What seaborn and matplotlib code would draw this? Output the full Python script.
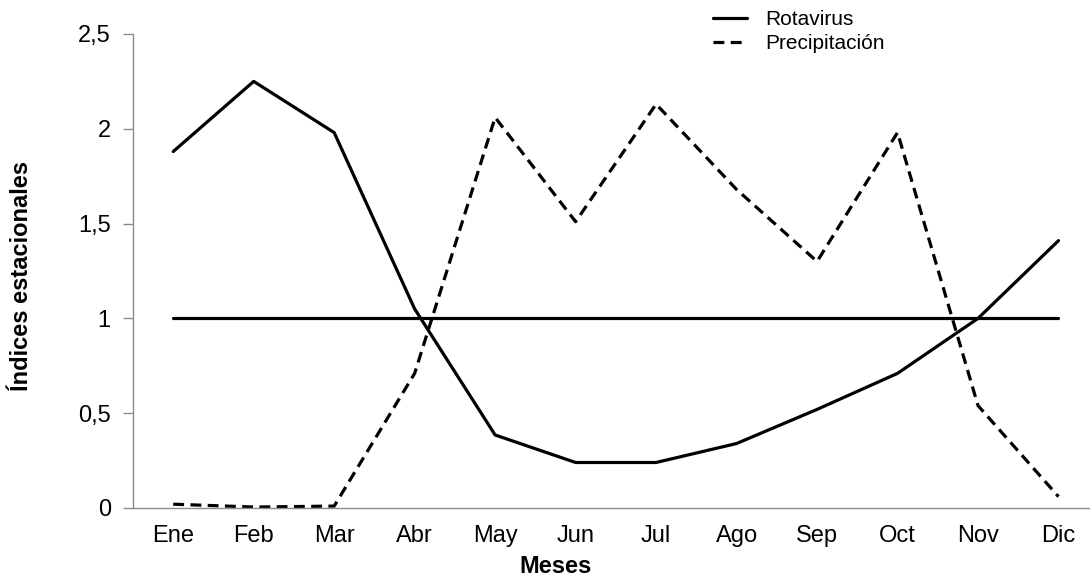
import pandas as pd
import seaborn as sns
import matplotlib.pyplot as plt
from matplotlib.ticker import FixedLocator, FuncFormatter

# Datos
meses = ['Ene', 'Feb', 'Mar', 'Abr', 'May', 'Jun', 'Jul', 'Ago', 'Sep', 'Oct', 'Nov', 'Dic']
rotavirus = [1.88, 2.25, 1.98, 1.05, 0.385, 0.24, 0.24, 0.34, 0.52, 0.71, 1.0, 1.41]
precipitacion = [0.02, 0.005, 0.01, 0.71, 2.06, 1.51, 2.13, 1.68, 1.30, 1.98, 0.54, 0.06]
referencia = [1, 1, 1, 1, 1, 1, 1, 1, 1, 1, 1, 1]

sns.set_style('white')
plt.rcParams['font.family'] = ['Liberation Sans', 'DejaVu Sans']
plt.rcParams['text.color'] = 'black'
plt.rcParams['xtick.labelcolor'] = 'black'
plt.rcParams['ytick.labelcolor'] = 'black'
plt.rcParams['axes.labelcolor'] = 'black'

df = pd.DataFrame({'Mes': meses, 'Rotavirus': rotavirus,
                   'Precipitación': precipitacion, 'Referencia': referencia})

fig = plt.figure(figsize=(10.9, 5.77), dpi=100)
ax = fig.add_axes([0.122, 0.1196, 0.886, 0.8215])

lw = 2.3
sns.lineplot(data=df, x='Mes', y='Rotavirus', ax=ax, color='black', lw=lw,
             label='Rotavirus', sort=False)
sns.lineplot(data=df, x='Mes', y='Precipitación', ax=ax, color='black', lw=lw,
             linestyle=(0, (3.4, 2.0)), label='Precipitación', sort=False)
sns.lineplot(data=df, x='Mes', y='Referencia', ax=ax, color='black', lw=lw,
             label='_nolegend_', sort=False)

ax.set_xlim(-0.5, 11.5)
ax.set_ylim(0, 2.5)
ax.set_yticks([0, 0.5, 1, 1.5, 2, 2.5])
ax.yaxis.set_major_formatter(FuncFormatter(lambda v, p: f'{v:g}'.replace('.', ',')))

# marcas del eje x entre categorias
ax.xaxis.set_minor_locator(FixedLocator([i - 0.5 for i in range(len(meses) + 1)]))
ax.tick_params(axis='x', which='major', length=0, labelsize=17, pad=12,
               labelcolor='black')
ax.tick_params(axis='x', which='minor', length=6, width=1, color='#8c8c8c', direction='out')
ax.tick_params(axis='y', length=7, width=1, color='#8c8c8c', direction='out',
               labelsize=17, pad=9, left=True, labelcolor='black')

for s in ['top', 'right']:
    ax.spines[s].set_visible(False)
for s in ['left', 'bottom']:
    ax.spines[s].set_color('#8c8c8c')
    ax.spines[s].set_linewidth(1)

ax.set_xlabel('Meses', fontsize=17, fontweight='bold', color='black')
ax.set_ylabel('Índices estacionales', fontsize=17, fontweight='bold', color='black')
ax.xaxis.set_label_coords(0.438, -0.1)
ax.yaxis.set_label_coords(-0.104, 0.49)

leg = ax.legend(loc='upper left', bbox_to_anchor=(713 / 1090, 1 - 10 / 577),
                bbox_transform=fig.transFigure, frameon=False, fontsize=15,
                handlelength=1.65, handletextpad=0.85, labelspacing=0.25,
                borderpad=0, borderaxespad=0)
for t in leg.get_texts():
    t.set_color('black')

plt.savefig('out.png', dpi=100)
plt.close()
